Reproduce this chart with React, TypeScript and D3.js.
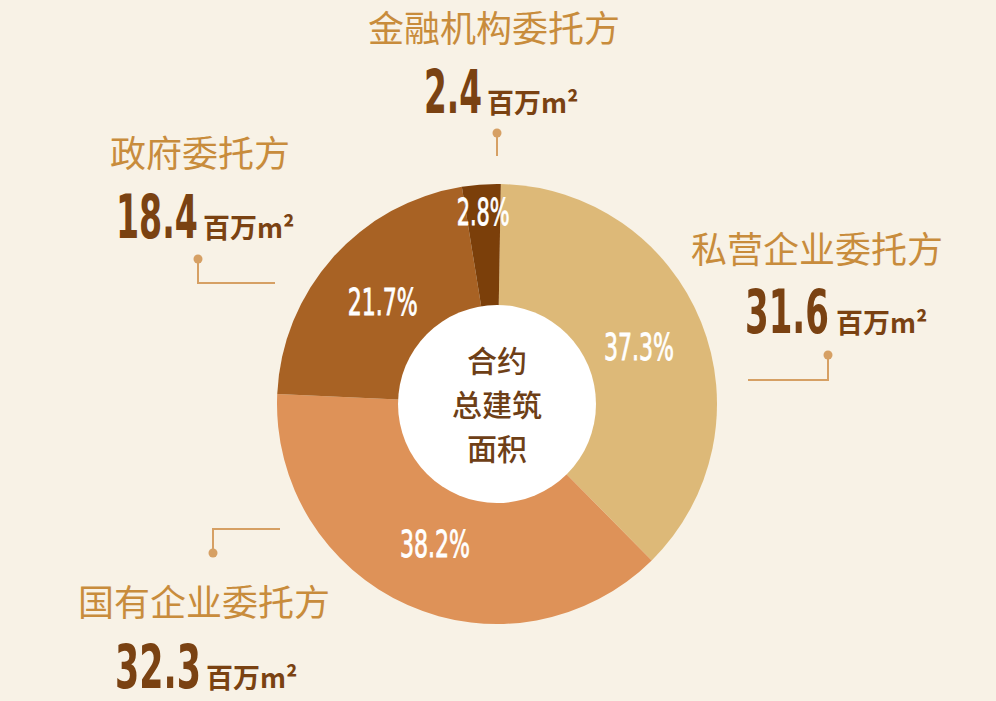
import React, { useLayoutEffect, useRef, useState } from "react";
import * as d3 from "d3";

const categories = ["私营企业委托方", "国有企业委托方", "政府委托方", "金融机构委托方"];
const areas = [31.6, 32.3, 18.4, 2.4];
const percentLabels = ["37.3%", "38.2%", "21.7%", "2.8%"];
const unitLabel = "百万m²";
const centerLines = ["合约", "总建筑", "面积"];

const W = 996;
const H = 701;
const colors = ["#DDB978", "#DE9258", "#A86224", "#7B3F0A"];
const BG = "#F8F2E6";
const NAME_COLOR = "#C88C3C";
const NUM_COLOR = "#7A4212";
const LINE_COLOR = "#D6A064";
const CENTER_COLOR = "#6E3F17";

// layout of the callouts (index matches categories)
const callouts = [
  { nameX: 691, nameY: 247, nameAnchor: "start", numX: 745, numY: 333, numW: 84, unitX: 836, dot: [828, 355], path: [[828, 355], [828, 380], [748, 380]] },
  { nameX: 78, nameY: 600, nameAnchor: "start", numX: 115, numY: 688, numW: 86, unitX: 206, dot: [213, 553], path: [[213, 553], [213, 529], [280, 529]] },
  { nameX: 110, nameY: 151, nameAnchor: "start", numX: 116, numY: 238, numW: 82, unitX: 203, dot: [198, 259], path: [[198, 259], [198, 283], [275, 283]] },
  { nameX: 494, nameY: 26, nameAnchor: "middle", numX: 424, numY: 113, numW: 58, unitX: 487, dot: [497, 133], path: [[497, 133], [497, 156]] },
];

const numFont = "'DejaVu Sans Condensed','DejaVu Sans',sans-serif";
const cjk = "'Noto Sans CJK SC','Noto Sans',sans-serif";

// Text horizontally squeezed to a target width (condensed display face)
function FitText(props: {
  x: number;
  y: number;
  width: number;
  anchor: "start" | "middle";
  central?: boolean;
  children: string;
  [k: string]: any;
}) {
  const { x, y, width, anchor, central, children, ...rest } = props;
  const ref = useRef<SVGTextElement>(null);
  const [sx, setSx] = useState(0.6);
  useLayoutEffect(() => {
    if (ref.current) {
      const w = ref.current.getComputedTextLength();
      if (w > 0) setSx(width / w);
    }
  }, [children, width]);
  return (
    <text
      ref={ref}
      transform={`translate(${x},${y}) scale(${sx},1)`}
      x={0}
      y={0}
      textAnchor={anchor}
      dominantBaseline={central ? "central" : undefined}
      {...rest}
    >
      {children}
    </text>
  );
}

export default function App() {
  const cx = 497;
  const cy = 404;
  const outerR = 220;
  const innerR = 99;

  const pie = d3
    .pie<number>()
    .sort(null)
    .value((d) => d)
    .startAngle((1 * Math.PI) / 180)
    .endAngle((361 * Math.PI) / 180);
  const arcs = pie(areas);
  const arcGen = d3.arc<d3.PieArcDatum<number>>().innerRadius(0).outerRadius(outerR);
  const total = d3.sum(areas);
  const line = d3.line();
  const lineGap = 44;

  return (
    <div style={{ position: "fixed", left: 0, top: 0, width: W, height: H }}>
      <svg width={W} height={H} viewBox={`0 0 ${W} ${H}`} style={{ display: "block" }}>
        <rect x={0} y={0} width={W} height={H} fill={BG} />
        <g transform={`translate(${cx},${cy})`}>
          {arcs.map((a, i) => (
            <path key={i} d={arcGen(a) || ""} fill={colors[i]} />
          ))}
          <circle r={innerR} fill="#FFFFFF" />
          {arcs.map((a, i) => {
            const small = a.data / total < 0.05;
            const r = small ? 193 : 153;
            const mid = (a.startAngle + a.endAngle) / 2;
            return (
              <FitText
                key={"p" + i}
                x={r * Math.sin(mid)}
                y={-r * Math.cos(mid)}
                width={small ? 53 : 70}
                anchor="middle"
                central
                fill="#FFFFFF"
                stroke="#FFFFFF"
                strokeWidth={0.8}
                fontFamily={numFont}
                fontWeight={400}
                fontSize={38}
              >
                {percentLabels[i]}
              </FitText>
            );
          })}
          {centerLines.map((t, i) => (
            <text
              key={"c" + i}
              x={0}
              y={(i - (centerLines.length - 1) / 2) * lineGap - 1}
              textAnchor="middle"
              dominantBaseline="central"
              fill={CENTER_COLOR}
              fontFamily={cjk}
              fontWeight={500}
              fontSize={30}
            >
              {t}
            </text>
          ))}
        </g>
        {categories.map((name, i) => {
          const c = callouts[i];
          return (
            <g key={"l" + i}>
              <text
                x={c.nameX}
                y={c.nameY}
                textAnchor={c.nameAnchor as any}
                dominantBaseline="central"
                fill={NAME_COLOR}
                fontFamily={cjk}
                fontWeight={400}
                fontSize={36}
              >
                {name}
              </text>
              <FitText
                x={c.numX}
                y={c.numY}
                width={c.numW}
                anchor="start"
                fill={NUM_COLOR}
                fontFamily={numFont}
                fontWeight={700}
                fontSize={61}
              >
                {d3.format(".1f")(areas[i])}
              </FitText>
              <text
                x={c.unitX}
                y={c.numY}
                fill={NUM_COLOR}
                fontFamily={cjk}
                fontWeight={700}
                fontSize={27}
              >
                {unitLabel}
              </text>
              <path
                d={line(c.path as [number, number][]) || ""}
                fill="none"
                stroke={LINE_COLOR}
                strokeWidth={2}
              />
              <circle cx={c.dot[0]} cy={c.dot[1]} r={4.5} fill={LINE_COLOR} />
            </g>
          );
        })}
      </svg>
    </div>
  );
}
